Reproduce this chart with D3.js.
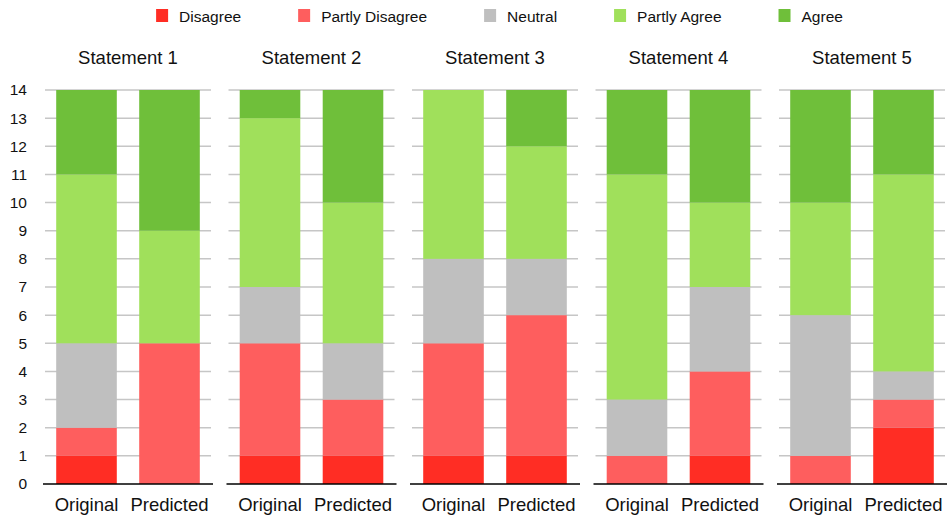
<!DOCTYPE html>
<html>
<head>
<meta charset="utf-8">
<script src="https://cdn.jsdelivr.net/npm/d3@7"></script>
<style>
  html, body { margin: 0; padding: 0; background: #fff; }
  svg { display: block; font-family: "Liberation Sans", Arial, Helvetica, sans-serif; }
</style>
</head>
<body>
<svg id="chart" width="948" height="519"></svg>
<script>
// Survey responses per statement: counts for each answer level
const statements = ["Statement 1", "Statement 2", "Statement 3", "Statement 4", "Statement 5"];
const versions = ["Original", "Predicted"];
const levels = ["Disagree", "Partly Disagree", "Neutral", "Partly Agree", "Agree"];
const levelColors = ["#ff2d24", "#fe5e5e", "#bfbfbf", "#a0e05b", "#6fbf3a"];

// [statement][version] -> counts in level order
const disagree       = [[1, 0], [1, 1], [1, 1], [0, 1], [0, 2]];
const partlyDisagree = [[1, 5], [4, 2], [4, 5], [1, 3], [1, 1]];
const neutral        = [[3, 0], [2, 2], [3, 2], [2, 3], [5, 1]];
const partlyAgree    = [[6, 4], [6, 5], [6, 4], [8, 3], [4, 7]];
const agree          = [[3, 5], [1, 4], [0, 2], [3, 4], [4, 3]];
const yTicks = d3.range(0, 15);

const levelData = [disagree, partlyDisagree, neutral, partlyAgree, agree];

const svg = d3.select("#chart");
const plotTop = 90, plotBottom = 484;
const y = d3.scaleLinear().domain([0, 14]).range([plotBottom, plotTop]);

const panelX = d3.scaleBand().domain(statements).range([45, 962.5]).paddingInner(0);
const panelW = 166;
const barX = d3.scaleBand().domain(versions).range([0, panelW]).paddingInner(0.27).paddingOuter(0.135);

// y axis labels on the left
const yAxis = d3.axisLeft(y).tickValues(yTicks).tickSize(0).tickPadding(0);
const ya = svg.append("g").attr("transform", "translate(27,0)").call(yAxis);
ya.select(".domain").remove();
ya.selectAll("text").attr("font-size", 15.5).attr("fill", "#111")
  .attr("font-family", "Liberation Sans, Arial, sans-serif");

statements.forEach((s, si) => {
  const g = svg.append("g").attr("transform", `translate(${panelX(s)},0)`);

  // horizontal gridlines
  g.selectAll("line.grid").data(yTicks.filter(t => t > 0)).join("line")
    .attr("class", "grid")
    .attr("x1", 0).attr("x2", panelW)
    .attr("y1", d => y(d)).attr("y2", d => y(d))
    .attr("stroke", "#c6c6c6").attr("stroke-width", 1.5);

  // stacked bars
  versions.forEach((v, vi) => {
    let acc = 0;
    levels.forEach((lv, li) => {
      const val = levelData[li][si][vi];
      if (val > 0) {
        g.append("rect")
          .attr("x", barX(v)).attr("width", barX.bandwidth())
          .attr("y", y(acc + val)).attr("height", y(acc) - y(acc + val))
          .attr("fill", levelColors[li]);
      }
      acc += val;
    });
  });

  // baseline axis with category labels
  const xa = g.append("g").attr("transform", `translate(0,${plotBottom})`)
    .call(d3.axisBottom(barX).tickSize(0).tickPadding(14));
  xa.select(".domain").attr("stroke", "#000").attr("stroke-width", 1.5)
    .attr("d", `M-2,0H${panelW + 2}`);
  xa.selectAll("text").attr("font-size", 18.5).attr("fill", "#111")
    .attr("font-family", "Liberation Sans, Arial, sans-serif");

  // panel title
  g.append("text").attr("x", panelW / 2).attr("y", 64)
    .attr("text-anchor", "middle").attr("font-size", 18.5).attr("fill", "#111")
    .text(s);
});

// legend
const legend = svg.append("g");
let lx = 0;
levels.forEach((lv, i) => {
  const item = legend.append("g").attr("transform", `translate(${lx},0)`);
  item.append("rect").attr("x", 0).attr("y", 9).attr("width", 12).attr("height", 13)
    .attr("fill", levelColors[i]);
  const t = item.append("text").attr("x", 23).attr("y", 21.5)
    .attr("font-size", 15.5).attr("fill", "#111").text(lv);
  lx += 23 + t.node().getComputedTextLength() + 57;
});
const legendW = lx - 57;
legend.attr("transform", `translate(${499.5 - legendW / 2},0)`);
</script>
</body>
</html>
